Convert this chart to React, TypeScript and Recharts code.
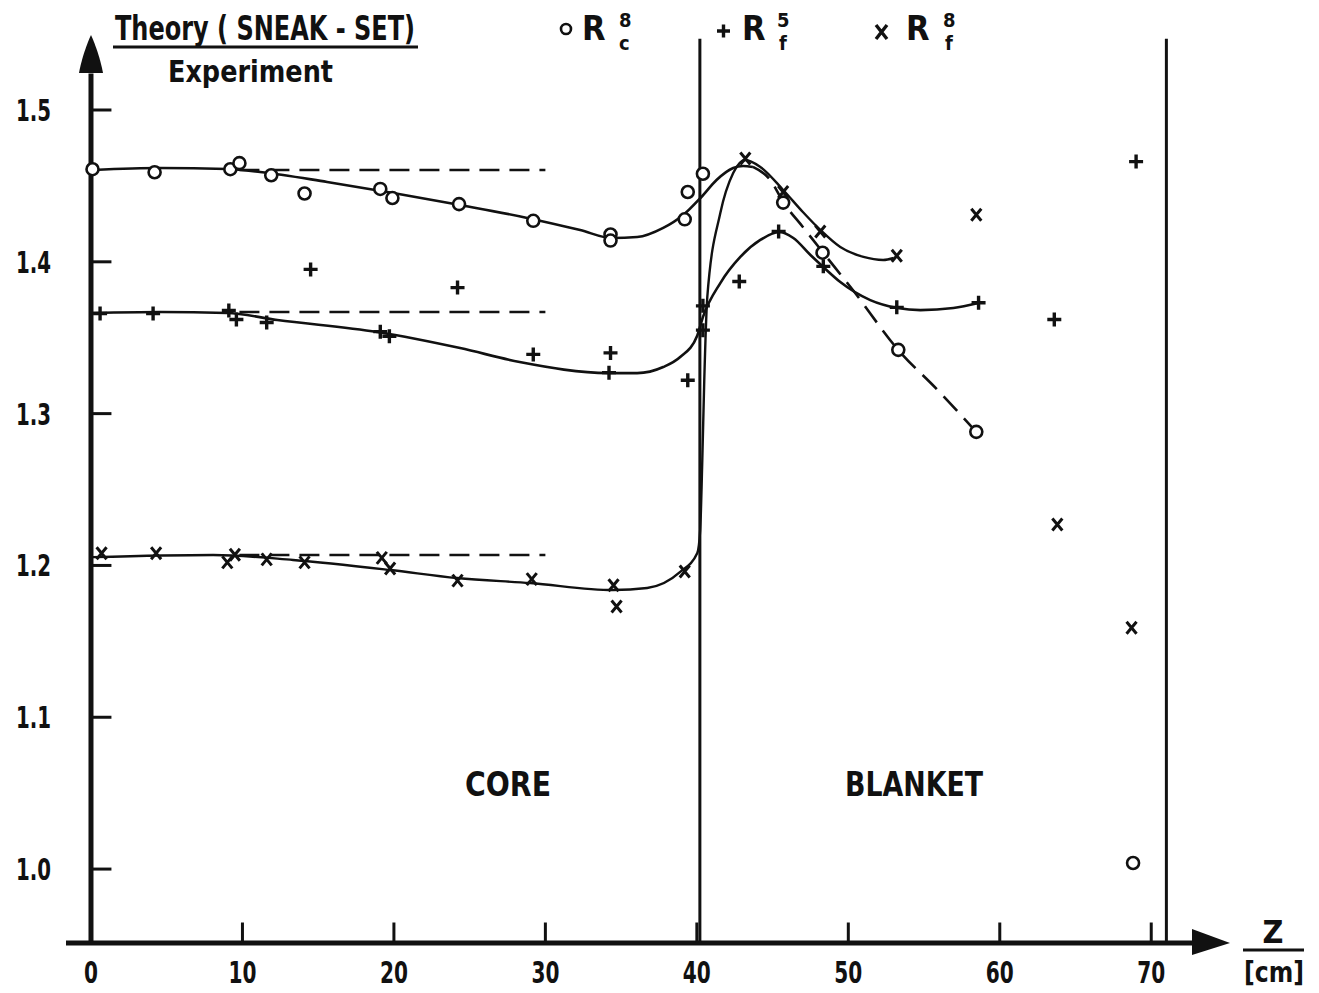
import React from 'react';
import {
  ComposedChart, Line, Scatter, XAxis, YAxis, ReferenceLine, ReferenceDot
} from 'recharts';

const INK = '#111';
const FONT = "'Liberation Sans Narrow', 'DejaVu Sans Condensed', 'Liberation Sans', 'DejaVu Sans', sans-serif";

// axis ranges (Z in cm, ratio theory/experiment)
const X_MIN = -1.65;
const X_MAX = 75.2;
const Y_MIN = 0.9513;
const Y_MAX = 1.5494;

const X_TICKS = [0, 10, 20, 30, 40, 50, 60, 70];
const Y_TICKS = [1.0, 1.1, 1.2, 1.3, 1.4, 1.5];

const CORE_EDGE = 40.2;
const BLANKET_EDGE = 71.0;

// measured ratios: R_c^8 (circles)
const rc8Measured = [
  [0.1, 1.461], [4.2, 1.459], [9.2, 1.461], [9.8, 1.465], [11.9, 1.457],
  [14.1, 1.445], [19.1, 1.448], [19.9, 1.442], [24.3, 1.438], [29.2, 1.427],
  [34.3, 1.418], [34.3, 1.414], [39.2, 1.428], [39.4, 1.446], [40.4, 1.458],
  [45.7, 1.439], [48.3, 1.406], [53.3, 1.342], [58.45, 1.288], [68.8, 1.004],
];

// measured ratios: R_f^5 (plus)
const rf5Measured = [
  [0.6, 1.366], [4.1, 1.366], [9.1, 1.368], [9.6, 1.362], [11.6, 1.360],
  [14.5, 1.395], [19.1, 1.354], [19.7, 1.351], [24.2, 1.383], [29.2, 1.339],
  [34.3, 1.340], [34.2, 1.327], [39.4, 1.322], [40.4, 1.371], [40.4, 1.355],
  [42.8, 1.387], [45.4, 1.420], [48.35, 1.397], [53.2, 1.370], [58.6, 1.373],
  [63.6, 1.362], [69.0, 1.466],
];

// measured ratios: R_f^8 (cross)
const rf8Measured = [
  [0.7, 1.208], [4.3, 1.208], [9.0, 1.202], [9.5, 1.207], [11.6, 1.204],
  [14.1, 1.202], [19.2, 1.205], [19.75, 1.198], [24.2, 1.190], [29.1, 1.191],
  [34.5, 1.187], [34.7, 1.173], [39.2, 1.196], [43.2, 1.468], [45.7, 1.446],
  [48.15, 1.420], [53.2, 1.404], [58.45, 1.431], [63.8, 1.227], [68.7, 1.159],
];

// hand-fitted curves
const rc8Curve = [
  [0.13, 1.4605], [4.56, 1.4618], [8.98, 1.4611], [11.16, 1.4592], [15.59, 1.4526],
  [19.95, 1.4453], [24.37, 1.4374], [28.8, 1.4289], [32.3, 1.4209], [34.4, 1.4157],
  [36.06, 1.4163], [37.78, 1.4223], [39.1, 1.4308], [40.3, 1.4427], [41.3, 1.4539],
  [42.4, 1.4618], [43.06, 1.4631], [43.7, 1.4625],
];
const rc8Blanket = [
  [43.7, 1.4625], [44.85, 1.4539], [45.7, 1.4394], [47.0, 1.4229], [48.3, 1.4065],
  [50.3, 1.3814], [53.3, 1.3419], [55.9, 1.3155], [58.45, 1.2879],
];
const rf5Curve = [
  [0.13, 1.3663], [4.56, 1.3669], [8.98, 1.3663], [12.3, 1.3617], [18.9, 1.3538],
  [24.37, 1.3432], [28.3, 1.334], [34.15, 1.3267], [36.06, 1.3267], [37.78, 1.3307],
  [38.9, 1.3373], [40.03, 1.3515], [40.4, 1.3636], [41.55, 1.386], [42.87, 1.4032],
  [44.19, 1.4144], [45.44, 1.4196], [46.37, 1.4157], [47.5, 1.4045], [48.35, 1.3966],
  [49.47, 1.3867], [51.45, 1.3748], [53.24, 1.3696], [54.76, 1.3682], [56.94, 1.3696],
  [58.59, 1.3729],
];
const rf8Curve = [
  [0.13, 1.2055], [8.06, 1.2069], [13.34, 1.2036], [19.75, 1.197], [24.17, 1.1917],
  [29.0, 1.1884], [34.48, 1.1838], [36.72, 1.1851], [38.9, 1.1957], [40.03, 1.2082],
  [40.22, 1.2233], [40.36, 1.2694], [40.49, 1.3221], [40.69, 1.3768], [41.55, 1.4321],
  [42.4, 1.4585], [43.2, 1.4671], [44.19, 1.4625], [45.7, 1.4473], [47.0, 1.4328],
  [48.15, 1.421], [49.47, 1.4097], [51.0, 1.4032], [52.3, 1.4012], [53.0, 1.4025],
];

// flat reference levels in the core
const rc8Level = [[9.8, 1.4605], [30.0, 1.4605]];
const rf5Level = [[9.8, 1.3669], [30.0, 1.3669]];
const rf8Level = [[9.8, 1.2069], [30.0, 1.2069]];

const toPts = (rows: number[][]) => rows.map(([x, y]) => ({ x, y }));

const CircleMark = (p: any) => (
  <circle cx={p.cx} cy={p.cy} r={6} fill="#fff" stroke={INK} strokeWidth={2.6} />
);
const PlusMark = (p: any) => (
  <path d={`M${p.cx - 7},${p.cy}h14M${p.cx},${p.cy - 7}v14`} stroke={INK} strokeWidth={3.4} />
);
const CrossMark = (p: any) => (
  <path
    d={`M${p.cx - 5},${p.cy - 6}L${p.cx + 5},${p.cy + 6}M${p.cx + 5},${p.cy - 6}L${p.cx - 5},${p.cy + 6}`}
    stroke={INK}
    strokeWidth={3}
  />
);

const XTick = (p: any) => {
  const s = String(p.payload.value);
  return (
    <text
      x={p.x} y={983} textAnchor="middle" fontFamily={FONT} fontWeight="bold" fontSize={30}
      textLength={s.length * 14} lengthAdjust="spacingAndGlyphs" fill={INK}
    >
      {s}
    </text>
  );
};
const YTick = (p: any) => (
  <text
    x={51} y={p.y + 11} textAnchor="end" fontFamily={FONT} fontWeight="bold" fontSize={30}
    textLength={35} lengthAdjust="spacingAndGlyphs" fill={INK}
  >
    {p.payload.value.toFixed(1)}
  </text>
);

const curveProps = {
  type: 'monotone' as const,
  dataKey: 'y',
  stroke: INK,
  dot: false,
  activeDot: false,
  isAnimationActive: false,
  legendType: 'none' as const,
};

const label = { fontFamily: FONT, fontWeight: 'bold' as const, fill: INK };

export default function App() {
  return (
    <div style={{ position: 'absolute', left: 0, top: 0, width: 1319, height: 993, background: '#fff' }}>
      <ComposedChart width={1319} height={993} margin={{ top: 35, right: 89, bottom: 0, left: 0 }}>
        <XAxis
          type="number" dataKey="x" domain={[X_MIN, X_MAX]} allowDataOverflow
          ticks={X_TICKS} interval={0} axisLine={false} tickLine={false} height={50} tick={XTick}
        />
        <YAxis
          type="number" dataKey="y" domain={[Y_MIN, Y_MAX]} allowDataOverflow
          ticks={Y_TICKS} interval={0} axisLine={false} tickLine={false} width={66} tick={YTick}
        />

        {/* axes drawn as heavy strokes with arrow heads */}
        <ReferenceLine segment={[{ x: 0, y: Y_MIN }, { x: 0, y: 1.524 }]} stroke={INK} strokeWidth={5} ifOverflow="visible" />
        <ReferenceLine segment={[{ x: X_MIN, y: Y_MIN }, { x: 72.9, y: Y_MIN }]} stroke={INK} strokeWidth={5} ifOverflow="visible" />
        <ReferenceDot
          x={0} y={Y_MAX} ifOverflow="visible"
          shape={(p: any) => (
            <path d={`M${p.cx},${p.cy}C${p.cx + 4},${p.cy + 8} ${p.cx + 10},${p.cy + 26} ${p.cx + 12},${p.cy + 38}L${p.cx - 12},${p.cy + 38}C${p.cx - 10},${p.cy + 26} ${p.cx - 4},${p.cy + 8} ${p.cx},${p.cy}Z`} fill={INK} />
          )}
        />
        <ReferenceDot
          x={X_MAX} y={Y_MIN} ifOverflow="visible"
          shape={(p: any) => (
            <path d={`M${p.cx},${p.cy}L${p.cx - 38},${p.cy - 14}L${p.cx - 38},${p.cy + 12}Z`} fill={INK} />
          )}
        />
        {X_TICKS.filter((t) => t > 0).map((t) => (
          <ReferenceLine key={`xt${t}`} segment={[{ x: t, y: Y_MIN }, { x: t, y: Y_MIN + 0.0135 }]} stroke={INK} strokeWidth={3} ifOverflow="visible" />
        ))}
        {Y_TICKS.map((t) => (
          <ReferenceLine key={`yt${t}`} segment={[{ x: 0, y: t }, { x: 1.35, y: t }]} stroke={INK} strokeWidth={3} ifOverflow="visible" />
        ))}

        {/* core / blanket boundaries */}
        <ReferenceLine segment={[{ x: CORE_EDGE, y: Y_MIN }, { x: CORE_EDGE, y: 1.547 }]} stroke={INK} strokeWidth={3} ifOverflow="visible" />
        <ReferenceLine segment={[{ x: BLANKET_EDGE, y: Y_MIN }, { x: BLANKET_EDGE, y: 1.547 }]} stroke={INK} strokeWidth={3} ifOverflow="visible" />

        {/* fitted curves */}
        <Line {...curveProps} data={toPts(rc8Curve)} strokeWidth={2.6} />
        <Line {...curveProps} data={toPts(rc8Blanket)} strokeWidth={2.6} strokeDasharray="20 10" />
        <Line {...curveProps} data={toPts(rf5Curve)} strokeWidth={2.6} />
        <Line {...curveProps} data={toPts(rf8Curve)} strokeWidth={2.4} />
        <Line {...curveProps} type="linear" data={toPts(rc8Level)} strokeWidth={2.6} strokeDasharray="20 10" />
        <Line {...curveProps} type="linear" data={toPts(rf5Level)} strokeWidth={2.6} strokeDasharray="20 10" />
        <Line {...curveProps} type="linear" data={toPts(rf8Level)} strokeWidth={2.6} strokeDasharray="20 10" />

        {/* measured points */}
        <Scatter data={toPts(rc8Measured)} dataKey="y" shape={CircleMark} isAnimationActive={false} legendType="none" />
        <Scatter data={toPts(rf5Measured)} dataKey="y" shape={PlusMark} isAnimationActive={false} legendType="none" />
        <Scatter data={toPts(rf8Measured)} dataKey="y" shape={CrossMark} isAnimationActive={false} legendType="none" />
      </ComposedChart>

      {/* headings, legend and region names */}
      <svg width={1319} height={993} style={{ position: 'absolute', left: 0, top: 0, pointerEvents: 'none' }}>
        <text x={115} y={40} fontSize={33} textLength={300} lengthAdjust="spacingAndGlyphs" {...label}>Theory ( SNEAK - SET)</text>
        <line x1={113} y1={47} x2={418} y2={47} stroke={INK} strokeWidth={3} />
        <text x={168} y={82} fontSize={30} textLength={165} lengthAdjust="spacingAndGlyphs" {...label}>Experiment</text>

        <circle cx={566} cy={29} r={5} fill="none" stroke={INK} strokeWidth={2.6} />
        <text x={582} y={40} fontSize={34} {...label}>R</text>
        <text x={619} y={27} fontSize={20} {...label}>8</text>
        <text x={619} y={50} fontSize={20} {...label}>c</text>

        <path d="M717,31h13M723.5,24.5v13" stroke={INK} strokeWidth={3.4} />
        <text x={742} y={40} fontSize={34} {...label}>R</text>
        <text x={777} y={27} fontSize={20} {...label}>5</text>
        <text x={779} y={50} fontSize={20} {...label}>f</text>

        <path d="M876,25L887,39M887,25L876,39" stroke={INK} strokeWidth={3.4} />
        <text x={906} y={40} fontSize={34} {...label}>R</text>
        <text x={943} y={27} fontSize={20} {...label}>8</text>
        <text x={945} y={50} fontSize={20} {...label}>f</text>

        <text x={465} y={796} fontSize={34} textLength={86} lengthAdjust="spacingAndGlyphs" {...label}>CORE</text>
        <text x={845} y={796} fontSize={34} textLength={138} lengthAdjust="spacingAndGlyphs" {...label}>BLANKET</text>

        <text x={1273} y={943} fontSize={32} textAnchor="middle" {...label}>Z</text>
        <line x1={1243} y1={950} x2={1304} y2={950} stroke={INK} strokeWidth={3} />
        <text x={1244} y={982} fontSize={29} textLength={60} lengthAdjust="spacingAndGlyphs" {...label}>[cm]</text>
      </svg>
    </div>
  );
}
